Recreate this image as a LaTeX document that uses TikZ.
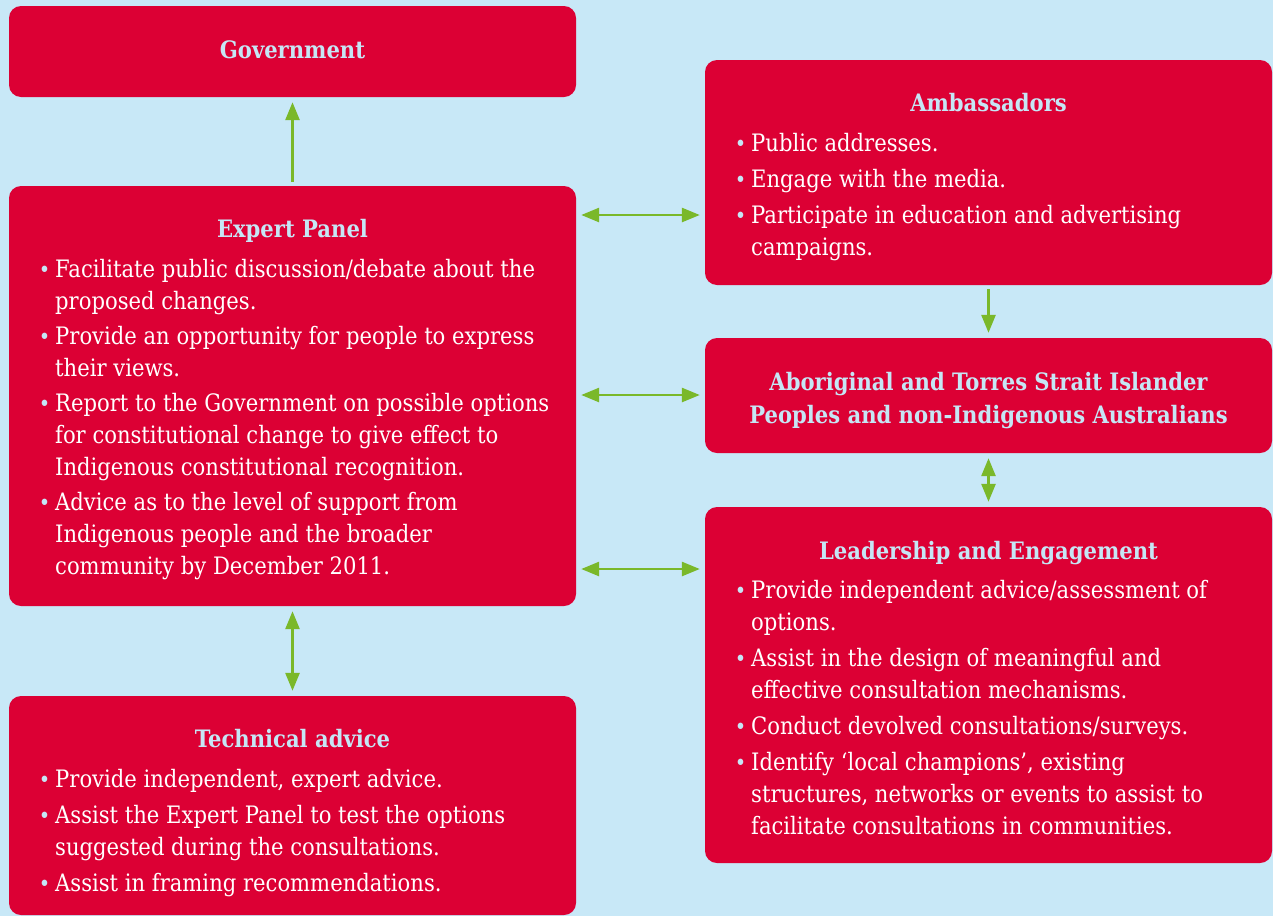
\documentclass[tikz,border=0pt]{standalone}
\usepackage{fontspec}
\setmainfont{DejaVu Serif}[FakeStretch=0.88]
\usetikzlibrary{arrows.meta}
\definecolor{bg}{HTML}{C8E8F7}
\definecolor{boxred}{HTML}{DC0034}
\definecolor{tb}{HTML}{C6E6F5}
\definecolor{grn}{HTML}{7AB82A}
\newcommand\mybul{\llap{\textcolor{tb}{\fontsize{22}{22}\selectfont •}\hspace{5pt}}}
\begin{document}
\begin{tikzpicture}[x=1pt,y=-1pt,
 box/.style={fill=boxred, rounded corners=12pt, inner sep=0pt, draw=none, minimum width=567pt},
 ttl/.style={anchor=base, text=tb, font=\fontsize{24}{30}\selectfont\bfseries, inner sep=0pt},
 txt/.style={anchor=base west, text=white, font=\fontsize{24}{30}\selectfont, inner sep=0pt},
 arr/.style={draw=grn, line width=2.7pt, -{Triangle[length=18pt,width=14pt]}, shorten >=5pt, shorten <=4pt},
 darr/.style={draw=grn, line width=2.7pt, {Triangle[length=18pt,width=14pt]}-{Triangle[length=18pt,width=14pt]}, shorten >=5pt, shorten <=5pt}]
\fill[bg] (0,0) rectangle (1273,916);
\useasboundingbox (0,0) rectangle (1273,916);

% boxes
\node[box, minimum height=91pt]  (gov)  at (292.5,51.5) {};
\node[box, minimum height=420pt] (ep)   at (292.5,396) {};
\node[box, minimum height=219pt] (tech) at (292.5,805.5) {};
\node[box, minimum height=225pt] (amb)  at (988.5,172.5) {};
\node[box, minimum height=115pt] (abo)  at (988.5,395.5) {};
\node[box, minimum height=356pt] (lead) at (988.5,685) {};

% connectors
\coordinate (y1) at (0,215);
\coordinate (y2) at (0,395);
\coordinate (y3) at (0,569);
\draw[arr] (ep.north) -- (gov.south);
\draw[darr] (ep.east |- y1) -- (amb.west |- y1);
\draw[darr] (ep.east |- y2) -- (abo.west |- y2);
\draw[darr] (ep.east |- y3) -- (lead.west |- y3);
\draw[arr] (amb.south) -- (abo.north);
\draw[darr] (abo.south) -- (lead.north);
\draw[darr] (ep.south) -- (tech.north);

% Government
\node[ttl] (govt) at (292.5,58) {Government};

% Expert Panel
\node[ttl] (ept) at (292.5,237) {Expert Panel};
\node[txt] (ep1) at (55,277) {\mybul Facilitate public discussion/debate about the};
\node[txt] (ep2) at (55,309) {proposed changes.};
\node[txt] (ep3) at (55,344) {\mybul Provide an opportunity for people to express};
\node[txt] (ep4) at (55,376) {their views.};
\node[txt] (ep5) at (55,411) {\mybul Report to the Government on possible options};
\node[txt] (ep6) at (55,443) {for constitutional change to give effect to};
\node[txt] (ep7) at (55,475) {Indigenous constitutional recognition.};
\node[txt] (ep8) at (55,510) {\mybul Advice as to the level of support from};
\node[txt] (ep9) at (55,542) {Indigenous people and the broader};
\node[txt] (ep10) at (55,574) {community by December 2011.};

% Technical advice
\node[ttl] (techt) at (292.5,747) {Technical advice};
\node[txt] (te1) at (55,787) {\mybul Provide independent, expert advice.};
\node[txt] (te2) at (55,823) {\mybul Assist the Expert Panel to test the options};
\node[txt] (te3) at (55,855) {suggested during the consultations.};
\node[txt] (te4) at (55,891) {\mybul Assist in framing recommendations.};

% Ambassadors
\node[ttl] (ambt) at (988.5,111) {Ambassadors};
\node[txt] (am1) at (751,151) {\mybul Public addresses.};
\node[txt] (am2) at (751,187) {\mybul Engage with the media.};
\node[txt] (am3) at (751,223) {\mybul Participate in education and advertising};
\node[txt] (am4) at (751,255) {campaigns.};

% Aboriginal
\node[ttl] (abt1) at (988.5,390) {Aboriginal and Torres Strait Islander};
\node[ttl] (abt2) at (988.5,423) {Peoples and non-Indigenous Australians};

% Leadership
\node[ttl] (leadt) at (988.5,559) {Leadership and Engagement};
\node[txt] (le1) at (751,598) {\mybul Provide independent advice/assessment of};
\node[txt] (le2) at (751,630) {options.};
\node[txt] (le3) at (751,666) {\mybul Assist in the design of meaningful and};
\node[txt] (le4) at (751,698) {effective consultation mechanisms.};
\node[txt] (le5) at (751,734) {\mybul Conduct devolved consultations/surveys.};
\node[txt] (le6) at (751,770) {\mybul Identify ‘local champions’, existing};
\node[txt] (le7) at (751,802) {structures, networks or events to assist to};
\node[txt] (le8) at (751,834) {facilitate consultations in communities.};
\end{tikzpicture}
\end{document}
